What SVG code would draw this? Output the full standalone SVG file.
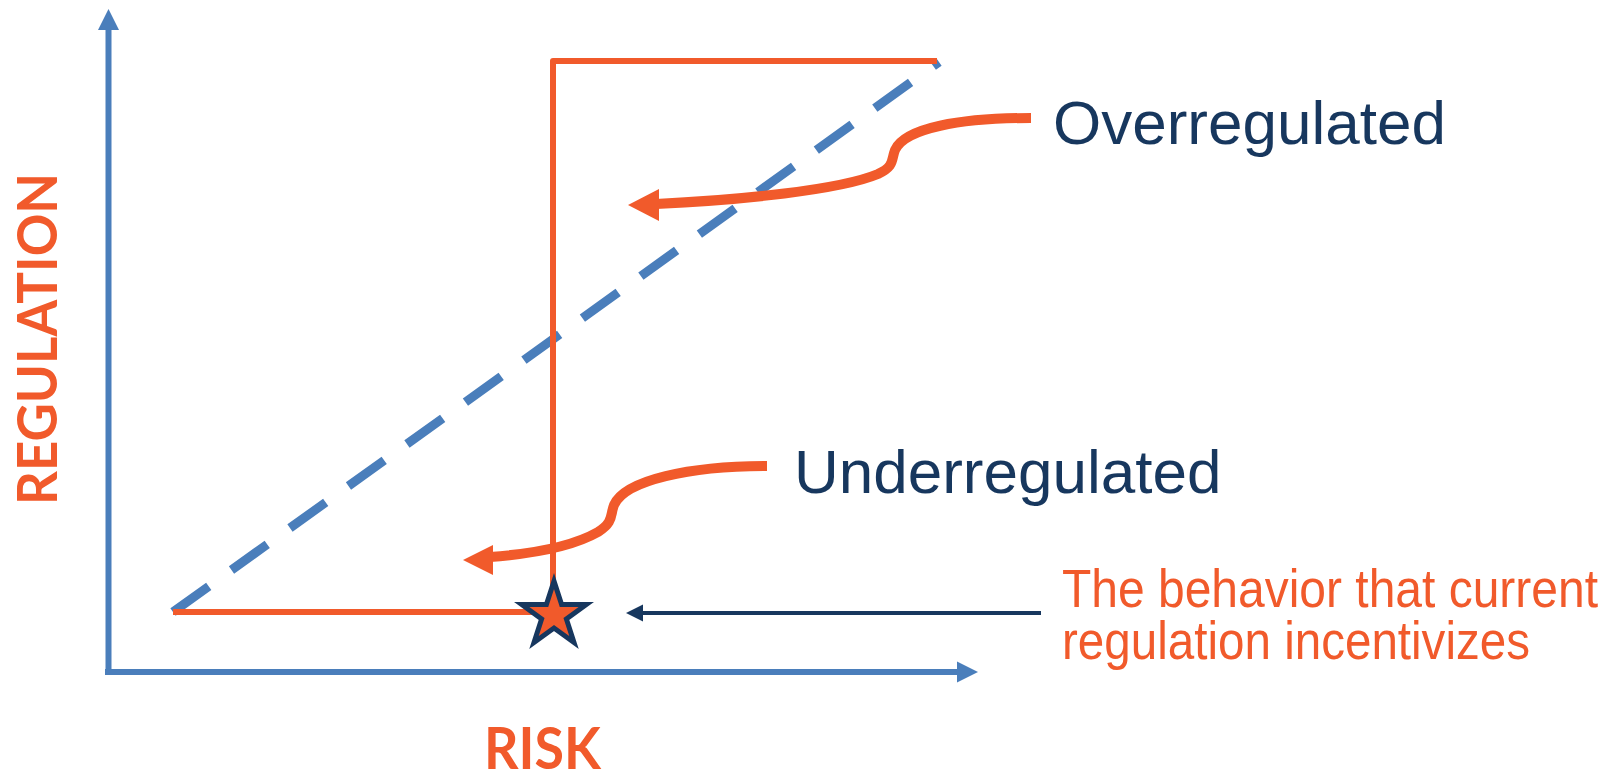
<svg xmlns="http://www.w3.org/2000/svg" width="1616" height="773" viewBox="0 0 1616 773">
<style>
.axis{stroke:#4A7EBB;stroke-width:6;fill:none}
.ax-head{fill:#4A7EBB}
.orange-line{stroke:#F15A2B;stroke-width:6;fill:none;stroke-linejoin:round}
.curve{stroke:#F15A2B;stroke-width:10;fill:none}
.orange-fill{fill:#F15A2B}
.navy{fill:#17375E}
.lbl{font-family:"Liberation Sans",Arial,sans-serif;font-size:62px;fill:#17375E}
.note{font-family:"Liberation Sans",Arial,sans-serif;font-size:54px;fill:#F15A2B}
.axlbl{font-family:Lato,"Open Sans",sans-serif;font-weight:bold;fill:#F15A2B}
</style>
<rect width="1616" height="773" fill="#ffffff"/>
<g id="axes">
  <path class="axis" d="M108.5,675 V28"/>
  <polygon class="ax-head" points="108.5,9 98,30 119,30"/>
  <path class="axis" d="M105,672 H960"/>
  <polygon class="ax-head" points="978,672 957,661.5 957,682.5"/>
</g>
<g id="diagonal">
  <path d="M173,612 L939,62" stroke="#4A7EBB" stroke-width="9" stroke-dasharray="44 28" fill="none"/>
</g>
<g id="bracket">
  <path class="orange-line" d="M937,61 H553 V612 H173"/>
</g>
<g id="connectors">
  <path class="curve" d="M1031,118 C960,118 905,128 895,150 C891,160 895,166 878,174 C840,190 740,200 656,204"/>
  <polygon class="orange-fill" points="628,205 659,189 659,221"/>
  <path class="curve" d="M767,466 C690,466 625,480 614,505 C610,515 614,522 598,532 C570,548 530,554 490,557"/>
  <polygon class="orange-fill" points="463,560 493,545 493,575"/>
  <path d="M1041,613 H640" stroke="#17375E" stroke-width="4" fill="none"/>
  <polygon class="navy" points="626,613 643,604.5 643,621.5"/>
</g>
<g id="star">
  <polygon points="554,581 561.6,604.5 586.3,604.5 566.4,619 574,642.5 554,628 534,642.5 541.6,619 521.7,604.5 546.4,604.5" fill="#F15A2B" stroke="#17375E" stroke-width="5" stroke-linejoin="miter"/>
</g>
<g id="label-over">
  <text class="lbl" x="1053" y="144">Overregulated</text>
</g>
<g id="label-under">
  <text class="lbl" x="794" y="493">Underregulated</text>
</g>
<g id="label-note">
  <text class="note" x="1062" y="607" textLength="536" lengthAdjust="spacingAndGlyphs">The behavior that current</text>
  <text class="note" x="1062" y="659" textLength="468" lengthAdjust="spacingAndGlyphs">regulation incentivizes</text>
</g>
<g id="label-y">
  <text class="axlbl" font-size="56" transform="translate(57,505) rotate(-90)" textLength="332" lengthAdjust="spacingAndGlyphs">REGULATION</text>
</g>
<g id="label-x">
  <text class="axlbl" font-size="58" x="484" y="769" textLength="117" lengthAdjust="spacingAndGlyphs">RISK</text>
</g>
</svg>
